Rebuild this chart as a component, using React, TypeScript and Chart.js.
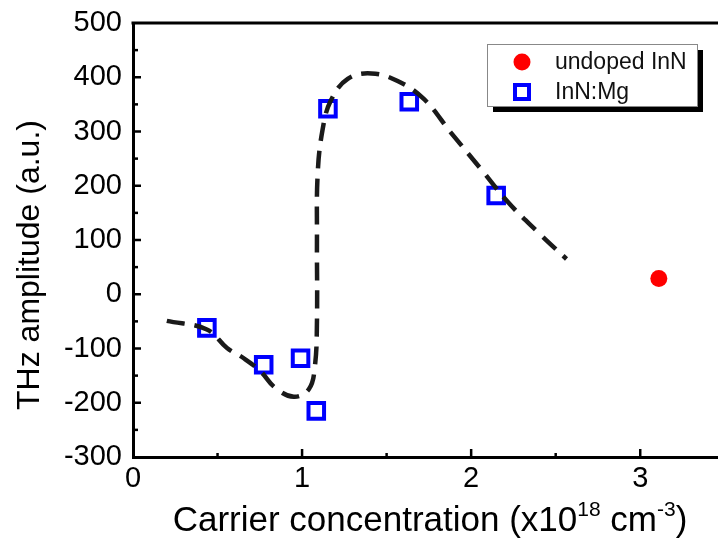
import React, { useEffect, useRef } from 'react';
import { Chart, registerables } from 'chart.js';

Chart.register(...registerables);

const FONT = "'Liberation Sans', Arial, Helvetica, sans-serif";

// Dashed guide curve (hand-drawn fit in the reference)
const fitX = [0.2, 0.437, 0.556, 0.655, 0.754, 0.84, 0.951, 1.04, 1.075, 1.088, 1.088, 1.092, 1.12, 1.17, 1.27, 1.41, 1.565, 1.72, 1.88, 2.06, 2.22, 2.4, 2.564];
const fitY = [-49, -65, -99, -118, -142, -172, -189, -175, -135, -50, 100, 220, 301, 357, 397, 407, 393, 360, 298, 230, 169, 113, 65];

// InN:Mg samples
const mgX = [0.437, 0.773, 0.991, 1.084, 1.153, 1.634, 2.148];
const mgY = [-62, -130, -118, -215, 342, 355, 182];

// undoped InN sample
const undopedX = [3.11];
const undopedY = [29];

const xTickValues = [0, 1, 2, 3];
const xMinorValues = [0.5, 1.5, 2.5];
const yTickValues = [-300, -200, -100, 0, 100, 200, 300, 400, 500];
const yMinorValues = [-250, -150, -50, 50, 150, 250, 350, 450];

const legendLabels = ['undoped InN', 'InN:Mg'];
const yTitle = 'THz amplitude (a.u.)';
const xTitleParts: { text: string; sup: boolean }[] = [
  { text: 'Carrier concentration (x10', sup: false },
  { text: '18', sup: true },
  { text: ' cm', sup: false },
  { text: '-3', sup: true },
  { text: ')', sup: false },
];

const overlay = {
  id: 'overlay',
  afterDraw(chart: any) {
    const { ctx, chartArea: a } = chart;
    const xs = chart.scales.x;
    const ys = chart.scales.y;
    ctx.save();
    // top frame line
    ctx.strokeStyle = '#000';
    ctx.lineWidth = 3;
    ctx.beginPath();
    ctx.moveTo(a.left - 1.5, a.top);
    ctx.lineTo(a.right + 2, a.top);
    ctx.stroke();

    ctx.lineWidth = 2.5;
    ctx.lineCap = 'butt';
    // inward ticks on y axis
    const yAll = [...yTickValues.filter((v) => v !== -300 && v !== 500), ...yMinorValues];
    yAll.forEach((v) => {
      const p = ys.getPixelForValue(v);
      const len = yTickValues.includes(v) ? 8 : 5;
      ctx.beginPath();
      ctx.moveTo(a.left, p);
      ctx.lineTo(a.left + len, p);
      ctx.stroke();
    });
    // inward ticks on x axis
    const xAll = [...xTickValues.filter((v) => v !== 0), ...xMinorValues];
    xAll.forEach((v) => {
      const p = xs.getPixelForValue(v);
      const len = xTickValues.includes(v) ? 8 : 4;
      ctx.beginPath();
      ctx.moveTo(p, a.bottom);
      ctx.lineTo(p, a.bottom - len);
      ctx.stroke();
    });

    // y title
    ctx.fillStyle = '#000';
    ctx.save();
    ctx.translate(39, 265);
    ctx.rotate(-Math.PI / 2);
    ctx.font = `32px ${FONT}`;
    ctx.textAlign = 'center';
    ctx.textBaseline = 'alphabetic';
    ctx.fillText(yTitle, 0, 0);
    ctx.restore();

    // x title with superscripts
    const mainFont = `35px ${FONT}`;
    const supFont = `21px ${FONT}`;
    let total = 0;
    xTitleParts.forEach((pt) => {
      ctx.font = pt.sup ? supFont : mainFont;
      total += ctx.measureText(pt.text).width;
    });
    let cx = 430 - total / 2;
    const base = 531;
    ctx.textAlign = 'left';
    ctx.textBaseline = 'alphabetic';
    xTitleParts.forEach((pt) => {
      ctx.font = pt.sup ? supFont : mainFont;
      ctx.fillText(pt.text, cx, pt.sup ? base - 15 : base);
      cx += ctx.measureText(pt.text).width;
    });

    // legend box with shadow
    const bx = 487, by = 44, bw = 210, bh = 62;
    ctx.fillStyle = '#000';
    ctx.fillRect(bx + 6, by + 6, bw, bh);
    ctx.fillStyle = '#fff';
    ctx.fillRect(bx, by, bw, bh);
    ctx.strokeStyle = '#888';
    ctx.lineWidth = 1;
    ctx.strokeRect(bx + 0.5, by + 0.5, bw, bh);
    // markers
    ctx.fillStyle = '#ff0000';
    ctx.beginPath();
    ctx.arc(522, 62, 8.5, 0, Math.PI * 2);
    ctx.fill();
    ctx.strokeStyle = '#0000ff';
    ctx.lineWidth = 4;
    ctx.strokeRect(522 - 7, 92 - 7, 14, 14);
    ctx.fillStyle = '#111';
    ctx.font = `23px ${FONT}`;
    ctx.textBaseline = 'middle';
    ctx.fillText(legendLabels[0], 555, 63);
    ctx.fillText(legendLabels[1], 555, 93);
    ctx.restore();
  },
};

export default function App() {
  const ref = useRef<HTMLCanvasElement | null>(null);
  useEffect(() => {
    if (!ref.current) return;
    const chart = new Chart(ref.current, {
      type: 'scatter',
      data: {
        datasets: [
          {
            label: 'fit',
            data: fitX.map((x, i) => ({ x, y: fitY[i] })),
            showLine: true,
            borderColor: '#1a1a1a',
            borderWidth: 4.5,
            borderDash: [18, 10],
            tension: 0.4,
            pointRadius: 0,
            fill: false,
          },
          {
            label: legendLabels[1],
            data: mgX.map((x, i) => ({ x, y: mgY[i] })),
            pointStyle: 'rect',
            pointRadius: 11,
            borderWidth: 4,
            borderColor: '#0000ff',
            backgroundColor: 'rgba(0,0,0,0)',
          },
          {
            label: legendLabels[0],
            data: undopedX.map((x, i) => ({ x, y: undopedY[i] })),
            pointStyle: 'circle',
            pointRadius: 8.5,
            borderWidth: 0,
            backgroundColor: '#ff0000',
            borderColor: '#ff0000',
          },
        ],
      },
      options: {
        responsive: false,
        animation: false,
        layout: { padding: { top: 23, left: 0, right: 0, bottom: 0 } },
        plugins: { legend: { display: false }, tooltip: { enabled: false } },
        scales: {
          x: {
            type: 'linear',
            min: 0,
            max: 3.46,
            afterBuildTicks: (s: any) => {
              s.ticks = xTickValues.map((v) => ({ value: v }));
            },
            afterFit: (s: any) => {
              s.height = 85;
              s.paddingLeft = 0;
              s.paddingRight = 0;
            },
            grid: { display: false, drawTicks: false },
            border: { display: true, color: '#000', width: 3 },
            ticks: {
              font: { family: FONT, size: 29 },
              color: '#000',
              padding: 5,
              maxRotation: 0,
            },
          },
          y: {
            type: 'linear',
            min: -300,
            max: 500,
            afterBuildTicks: (s: any) => {
              s.ticks = yTickValues.map((v) => ({ value: v }));
            },
            afterFit: (s: any) => {
              s.width = 133;
              s.paddingTop = 0;
              s.paddingBottom = 0;
            },
            grid: { display: false, drawTicks: false },
            border: { display: true, color: '#000', width: 3 },
            ticks: {
              font: { family: FONT, size: 29 },
              color: '#000',
              padding: 11,
            },
          },
        },
      },
      plugins: [overlay],
    });
    return () => chart.destroy();
  }, []);
  return (
    <div style={{ position: 'absolute', left: 0, top: 0, width: 718, height: 542, overflow: 'hidden' }}>
      <canvas ref={ref} width={733} height={542} style={{ display: 'block' }} />
    </div>
  );
}
